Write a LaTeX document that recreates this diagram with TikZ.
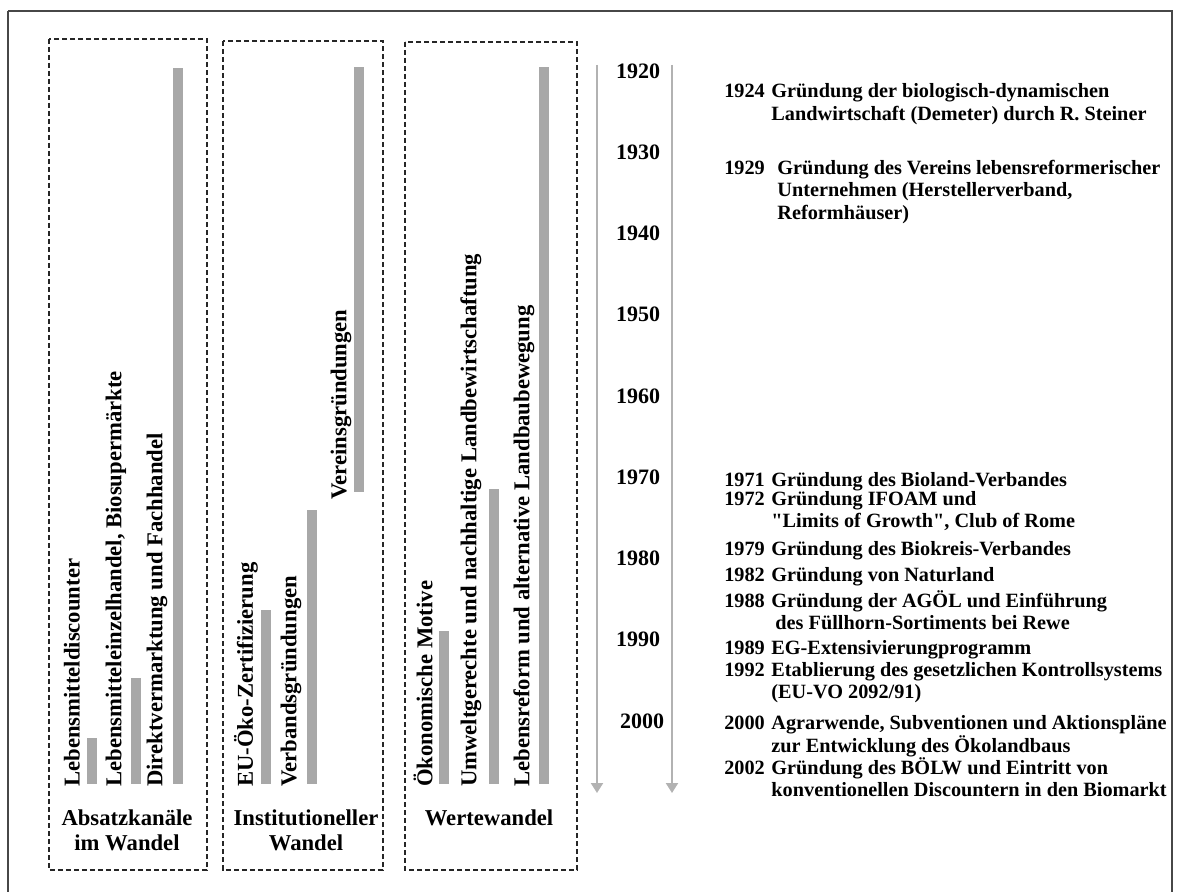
\documentclass[tikz,border=0pt]{standalone}
\usepackage{fontspec}
\setmainfont{Liberation Serif}[Ligatures=TeXOff]
\usetikzlibrary{arrows.meta}

\newcommand{\bigfont}{\fontsize{17}{18.75}\selectfont\bfseries}
\newcommand{\yearfont}{\fontsize{16.5}{18}\selectfont\bfseries}
\newcommand{\evfont}{\fontsize{15.2}{16.9}\selectfont\bfseries}

\begin{document}
\begin{tikzpicture}[x=0.75pt, y=-0.75pt,
  frame/.style={draw=black!72, line width=1.6pt},
  panel/.style={draw=black!85, line width=0.8pt, dash pattern=on 3.8pt off 2.2pt},
  bar/.style={fill=black!34},
  barlabel/.style={rotate=90, anchor=west, inner sep=0pt, font=\bigfont},
  paneltitle/.style={align=center, inner sep=0pt, font=\bigfont},
  yearlabel/.style={inner sep=0pt, font=\yearfont},
  event/.style={anchor=base west, inner sep=0pt, font=\evfont},
  timeline/.style={draw=black!30, line width=1.6pt, -{Triangle[width=9pt,length=7.5pt]}}]
  \useasboundingbox (0,0) rectangle (1179,892);
  \fill[white] (0,0) rectangle (1179,892);
  \draw[frame] (8,11) -- (8,900) (8,11) -- (1172,11) -- (1172,900);

  % three panels
  \draw[panel] (49,39) rectangle (207,870);
  \draw[panel] (223,41) rectangle (383,870);
  \draw[panel] (405,42) rectangle (577,870);

  % bars (x/top), all ending at the bottom line
  \foreach \bx/\btop in {92/738,136/678,178/68,266/610,312/510,444/631,494/489,544/67}
    \fill[bar] ({\bx-4.8},\btop) rectangle ({\bx+4.8},784);
  \fill[bar] (354.2,67) rectangle (363.8,492);

  \node[barlabel] (discount) at (72,787) {Lebensmitteldiscounter};
  \node[barlabel] (einzel) at (116,787) {Lebensmitteleinzelhandel, Biosupermärkte};
  \node[barlabel] (direkt) at (157,787) {Direktvermarktung und Fachhandel};
  \node[barlabel] (zert) at (246,787) {EU-Öko-Zertifizierung};
  \node[barlabel] (verband) at (291,787) {Verbandsgründungen};
  \node[barlabel] (verein) at (341,500) {Vereinsgründungen};
  \node[barlabel] (oekon) at (423,787) {Ökonomische Motive};
  \node[barlabel] (umwelt) at (471,787) {Umweltgerechte und nachhaltige Landbewirtschaftung};
  \node[barlabel] (reform) at (524,787) {Lebensreform und alternative Landbaubewegung};

  \node[paneltitle] (absatz) at (127,830) {Absatzkanäle\\im Wandel};
  \node[paneltitle] (instit) at (306,830) {Institutioneller\\Wandel};
  \node[paneltitle] (werte) at (489,818) {Wertewandel};

  % timeline
  \coordinate (tlA) at (597,65);  \coordinate (tlAend) at (597,793);
  \coordinate (tlB) at (672,65);  \coordinate (tlBend) at (672,793);
  \draw[timeline] (tlA) -- (tlAend);
  \draw[timeline] (tlB) -- (tlBend);
  \foreach \yr in {1920,1930,...,1990}
    \node[yearlabel] (y\yr) at (638,{71+(\yr-1920)*8.12}) {\yr};
  \node[yearlabel] (y2000) at (642,721) {2000};

  % events
  \node[event] (e1924) at (724,98) {\begin{tabular}[t]{@{}l@{\hspace{5pt}}l@{}}1924 & Gründung der biologisch-dynamischen\\ & Landwirtschaft (Demeter) durch R. Steiner\end{tabular}};
  \node[event] (e1929) at (724,174) {\begin{tabular}[t]{@{}l@{\hspace{9.5pt}}l@{}}1929 & Gründung des Vereins lebensreformerischer\\ & Unternehmen (Herstellerverband,\\ & Reformhäuser)\end{tabular}};
  \node[event] (e1971) at (724,486) {\begin{tabular}[t]{@{}l@{\hspace{5pt}}l@{}}1971 & Gründung des Bioland-Verbandes\end{tabular}};
  \node[event] (e1972) at (724,505) {\begin{tabular}[t]{@{}l@{\hspace{5pt}}l@{}}1972 & Gründung IFOAM und\\ & "Limits of Growth", Club of Rome\end{tabular}};
  \node[event] (e1979) at (724,555) {\begin{tabular}[t]{@{}l@{\hspace{5pt}}l@{}}1979 & Gründung des Biokreis-Verbandes\end{tabular}};
  \node[event] (e1982) at (724,581) {\begin{tabular}[t]{@{}l@{\hspace{5pt}}l@{}}1982 & Gründung von Naturland\end{tabular}};
  \node[event] (e1988) at (724,607) {\begin{tabular}[t]{@{}l@{\hspace{5pt}}l@{}}1988 & Gründung der AGÖL und Einführung\\ & \hspace{3pt}des Füllhorn-Sortiments bei Rewe\end{tabular}};
  \node[event] (e1989) at (724,654) {\begin{tabular}[t]{@{}l@{\hspace{5pt}}l@{}}1989 & EG-Extensivierungprogramm\end{tabular}};
  \node[event] (e1992) at (724,676) {\begin{tabular}[t]{@{}l@{\hspace{5pt}}l@{}}1992 & Etablierung des gesetzlichen Kontrollsystems\\ & (EU-VO 2092/91)\end{tabular}};
  \node[event] (e2000) at (724,729) {\begin{tabular}[t]{@{}l@{\hspace{5pt}}l@{}}2000 & Agrarwende, Subventionen und Aktionspläne\\ & zur Entwicklung des Ökolandbaus\end{tabular}};
  \node[event] (e2002) at (724,774) {\begin{tabular}[t]{@{}l@{\hspace{5pt}}l@{}}2002 & Gründung des BÖLW und Eintritt von\\ & konventionellen Discountern in den Biomarkt\end{tabular}};
\end{tikzpicture}
\end{document}
